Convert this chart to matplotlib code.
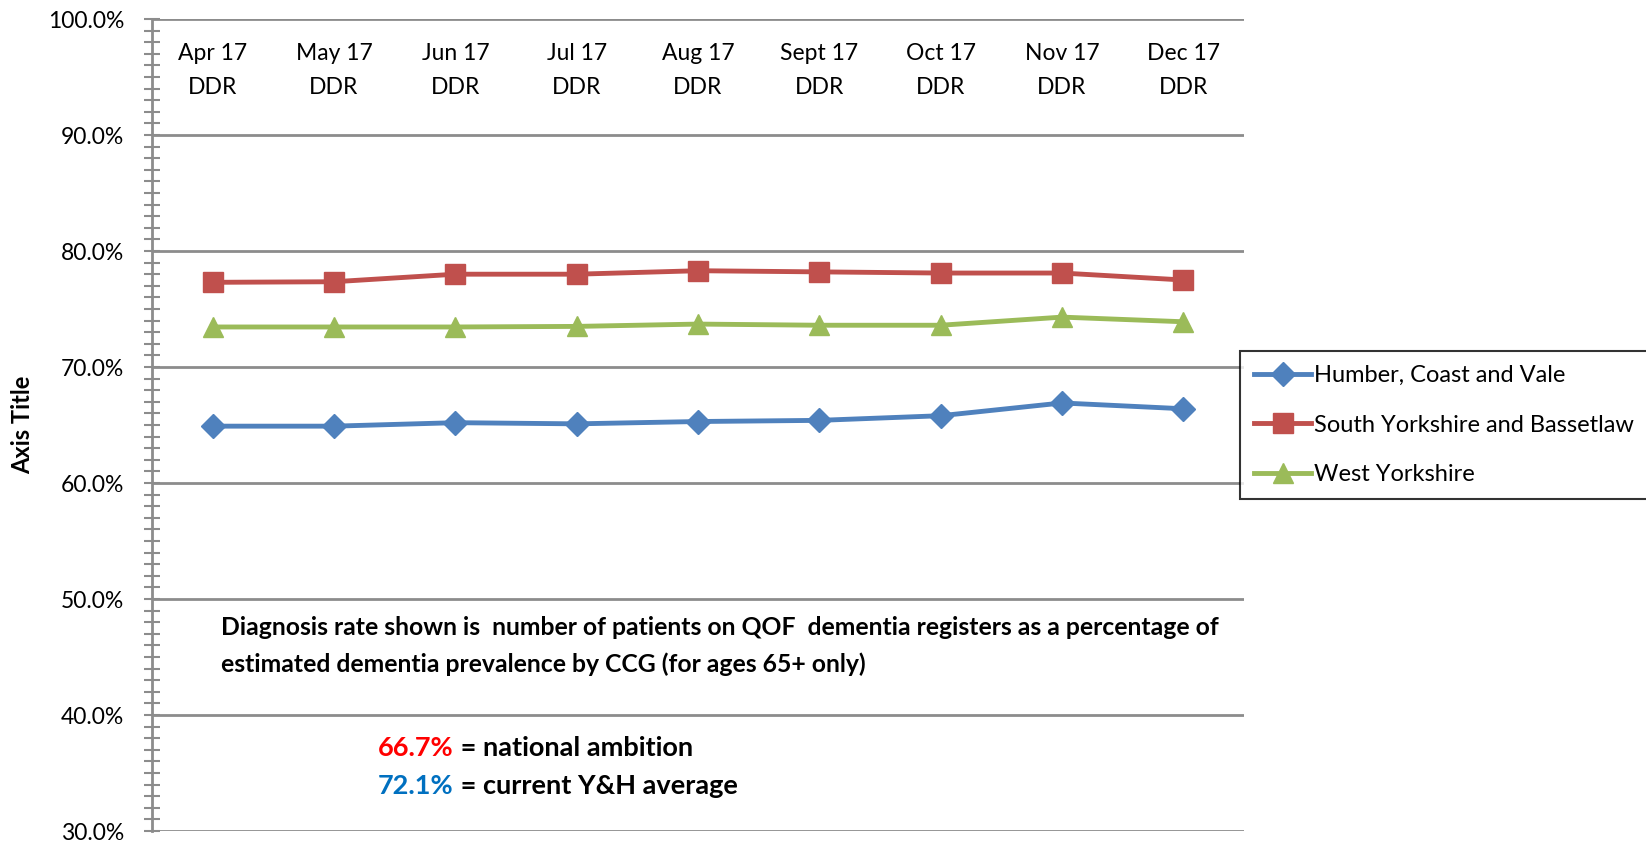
import matplotlib
matplotlib.use("Agg")
import matplotlib.pyplot as plt
from matplotlib.ticker import MultipleLocator, FuncFormatter
from matplotlib import transforms

# data (diagnosis rate, %)
months = ["Apr 17", "May 17", "Jun 17", "Jul 17", "Aug 17",
          "Sept 17", "Oct 17", "Nov 17", "Dec 17"]
humber = [64.9, 64.9, 65.2, 65.1, 65.3, 65.4, 65.8, 66.9, 66.4]
south_yorks = [77.3, 77.35, 78.0, 78.0, 78.3, 78.2, 78.1, 78.1, 77.5]
west_yorks = [73.45, 73.45, 73.45, 73.5, 73.7, 73.6, 73.6, 74.3, 73.9]

plt.rcParams["font.family"] = ["Lato", "DejaVu Sans"]
grid_col = "#8c8c8c"

W, H = 1646, 844
fig = plt.figure(figsize=(W / 100, H / 100), dpi=100)
ax = fig.add_axes([152 / W, 1 - 831 / H, (1244 - 152) / W, (831 - 19) / H])

x = list(range(len(months)))
ax.plot(x, humber, color="#4F81BD", lw=3.5, marker="D", ms=12,
        label="Humber, Coast and Vale")
ax.plot(x, south_yorks, color="#C0504D", lw=3.5, marker="s", ms=14,
        label="South Yorkshire and Bassetlaw")
ax.plot(x, west_yorks, color="#9BBB59", lw=3.5, marker="^", ms=15,
        label="West Yorkshire")

ax.set_xlim(-0.5, len(months) - 0.5)
ax.set_ylim(30, 100)
ax.yaxis.set_major_locator(MultipleLocator(10))
ax.yaxis.set_minor_locator(MultipleLocator(1))
ax.yaxis.set_major_formatter(FuncFormatter(lambda v, p: f"{v:.1f}%"))
ax.tick_params(axis="y", which="both", direction="inout", length=12,
               width=1.5, color=grid_col, labelsize=16.5, pad=14)
ax.set_xticks([])
ax.grid(axis="y", which="major", color=grid_col, lw=2)
for s in ["top", "right", "bottom"]:
    ax.spines[s].set_visible(False)
ax.spines["left"].set_color(grid_col)
ax.spines["left"].set_linewidth(2)
ax.set_axisbelow(True)

# category labels sit at the top of the plot area
tr = transforms.blended_transform_factory(ax.transData, ax.transAxes)
for i, m in enumerate(months):
    ax.text(i, 0.937, f"{m}\nDDR", transform=tr, ha="center", va="center",
            fontsize=16.5, linespacing=1.75)

fig.text(23 / W, 1 - 425 / H, "Axis Title", rotation=90, fontsize=17,
         fontweight="bold", ha="center", va="center")

fig.text(221 / W, 1 - 646 / H,
         "Diagnosis rate shown is  number of patients on QOF  dementia registers as a percentage of\n"
         "estimated dementia prevalence by CCG (for ages 65+ only)",
         fontsize=17.8, fontweight="bold", ha="left", va="center", linespacing=1.65)

t1 = fig.text(378 / W, 1 - 760 / H, "66.7%", color="#FF0000", fontsize=19.5,
              fontweight="bold", ha="left", va="bottom")
ax.annotate(" = national ambition", xy=(1, 0), xycoords=t1, fontsize=19.5,
            fontweight="bold", ha="left", va="bottom", annotation_clip=False)
t2 = fig.text(378 / W, 1 - 798 / H, "72.1%", color="#0070C0", fontsize=19.5,
              fontweight="bold", ha="left", va="bottom")
ax.annotate(" = current Y&H average", xy=(1, 0), xycoords=t2, fontsize=19.5,
            fontweight="bold", ha="left", va="bottom", annotation_clip=False)

leg = fig.legend(loc="upper left", bbox_to_anchor=(1240 / W, 1 - 351 / H),
                 fontsize=17, frameon=True, fancybox=False, handlelength=2.4,
                 labelspacing=1.2, borderpad=0.6, handletextpad=0.15,
                 borderaxespad=0)
leg.get_frame().set_edgecolor("black")
leg.get_frame().set_linewidth(1.5)

fig.savefig("out.png", dpi=100)
